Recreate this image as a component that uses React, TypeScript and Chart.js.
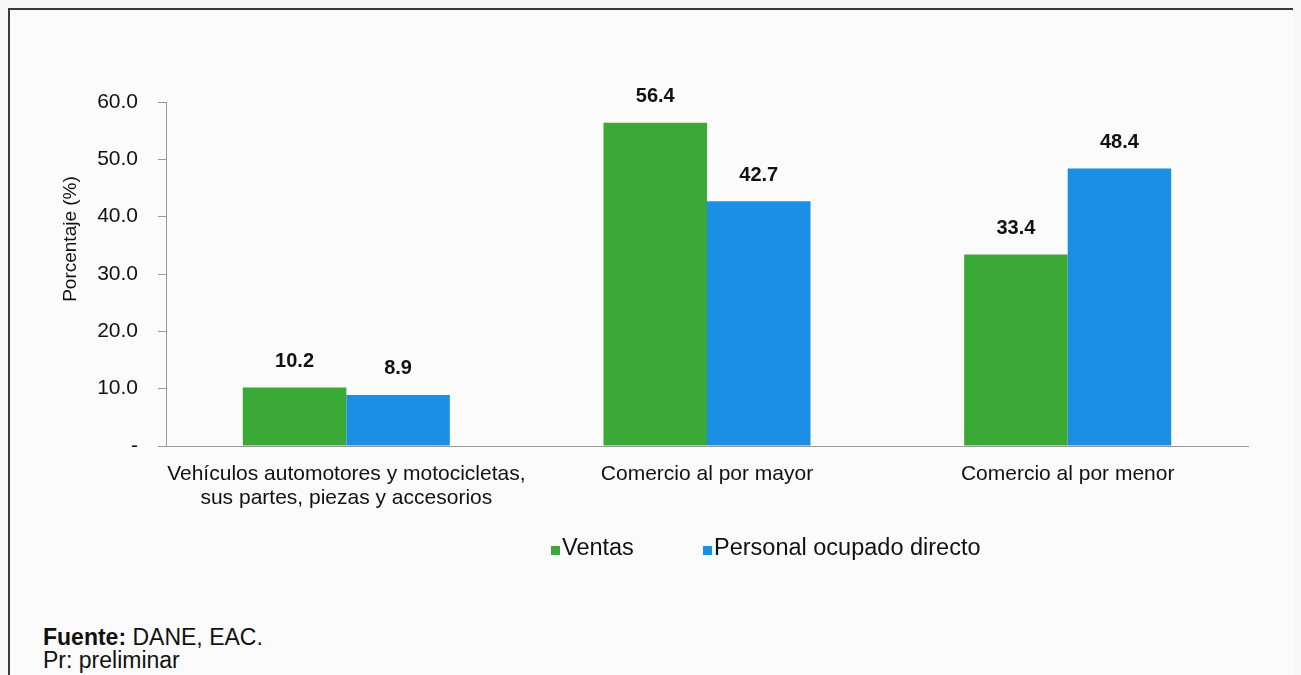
import React, { useEffect, useRef } from 'react';
import { Chart, registerables } from 'chart.js';

Chart.register(...registerables);

const categories: string[][] = [
  ['Vehículos automotores y motocicletas,', 'sus partes, piezas y accesorios'],
  ['Comercio al por mayor'],
  ['Comercio al por menor'],
];
const seriesNames = ['Ventas', 'Personal ocupado directo'];
const ventas = [10.2, 56.4, 33.4];
const personal = [8.9, 42.7, 48.4];
const seriesColors = ['#3aa935', '#1b8fe6'];
const yAxisTitle = 'Porcentaje (%)';
const sourceBold = 'Fuente:';
const sourceText = ' DANE, EAC.';
const noteText = 'Pr: preliminar';

const FONT = '"Liberation Sans", Arial, Helvetica, sans-serif';
const TEXT = '#111111';
const AXIS = '#9a9a9a';

const extrasPlugin = {
  id: 'extras',
  afterDatasetsDraw(chart: any) {
    const ctx = chart.ctx;
    ctx.save();
    // data labels
    ctx.font = `bold 20px ${FONT}`;
    ctx.fillStyle = TEXT;
    ctx.textAlign = 'center';
    ctx.textBaseline = 'middle';
    chart.data.datasets.forEach((ds: any, i: number) => {
      const meta = chart.getDatasetMeta(i);
      meta.data.forEach((el: any, j: number) => {
        ctx.fillText(Number(ds.data[j]).toFixed(1), el.x, el.y - 26);
      });
    });
    // y axis title
    ctx.save();
    ctx.translate(61, 229);
    ctx.rotate(-Math.PI / 2);
    ctx.font = `19px ${FONT}`;
    ctx.textAlign = 'center';
    ctx.textBaseline = 'middle';
    ctx.fillText(yAxisTitle, 0, 0);
    ctx.restore();
    // legend
    ctx.font = `23.5px ${FONT}`;
    ctx.textAlign = 'left';
    ctx.textBaseline = 'alphabetic';
    const baseline = 545;
    const starts = [541, 693];
    chart.data.datasets.forEach((ds: any, i: number) => {
      const x = starts[i];
      ctx.fillStyle = ds.backgroundColor;
      ctx.fillRect(x, baseline - 9, 9, 9);
      ctx.fillStyle = TEXT;
      ctx.fillText(ds.label, x + 11, baseline);
    });
    ctx.restore();
  },
};

export default function App() {
  const ref = useRef<HTMLCanvasElement | null>(null);

  useEffect(() => {
    document.body.style.background = '#f8f8f8';
    if (!ref.current) return;
    const chart = new Chart(ref.current, {
      type: 'bar',
      data: {
        labels: categories,
        datasets: [
          { label: seriesNames[0], data: ventas, backgroundColor: seriesColors[0], borderWidth: 0 },
          { label: seriesNames[1], data: personal, backgroundColor: seriesColors[1], borderWidth: 0 },
        ],
      },
      options: {
        responsive: false,
        animation: false,
        layout: { padding: { top: 92, right: 46, left: 0, bottom: 0 } },
        datasets: { bar: { categoryPercentage: 0.574, barPercentage: 1 } },
        plugins: { legend: { display: false }, tooltip: { enabled: false } },
        scales: {
          x: {
            grid: { display: false, drawTicks: false },
            border: { display: true, color: AXIS, width: 1 },
            ticks: { font: { family: FONT, size: 21, lineHeight: 1.15 }, color: TEXT, padding: 16, maxRotation: 0, autoSkip: false },
            afterFit: (s: any) => { s.height = 124; },
          },
          y: {
            min: 0,
            max: 60,
            ticks: {
              stepSize: 10,
              padding: 20,
              font: { family: FONT, size: 21 },
              color: TEXT,
              callback: (v: any) => (Number(v) === 0 ? '-' : Number(v).toFixed(1)),
            },
            grid: { drawOnChartArea: false, drawTicks: true, tickLength: 8, color: AXIS },
            border: { display: true, color: AXIS, width: 1 },
            afterFit: (s: any) => { s.width = 156; },
          },
        },
      },
      plugins: [extrasPlugin],
    } as any);
    return () => chart.destroy();
  }, []);

  return (
    <div
      style={{
        position: 'relative',
        width: 1288,
        height: 700,
        boxSizing: 'border-box',
        border: '2px solid #3a3a3a',
        background: '#fbfbfb',
      }}
    >
      <canvas ref={ref} width={1284} height={560} style={{ position: 'absolute', left: 0, top: 0, width: 1284, height: 560 }} />
      <div
        style={{
          position: 'absolute',
          left: 33,
          top: 616,
          fontFamily: FONT,
          fontSize: 23,
          lineHeight: '23px',
          color: TEXT,
        }}
      >
        <div><b>{sourceBold}</b>{sourceText}</div>
        <div>{noteText}</div>
      </div>
    </div>
  );
}
